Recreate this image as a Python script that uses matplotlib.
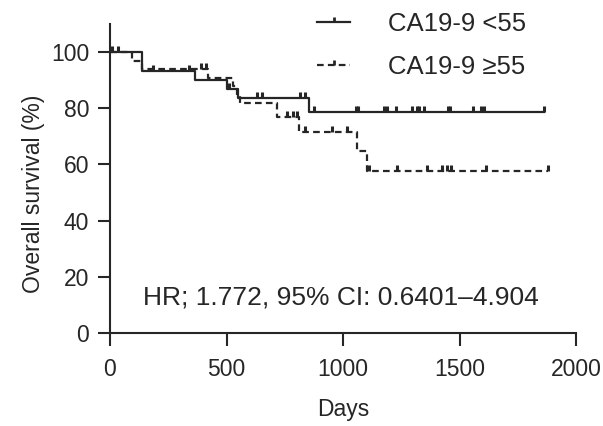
"""
Kaplan-Meier style overall survival plot, CA19-9 groups
"""
import matplotlib
matplotlib.use("Agg")
import matplotlib.pyplot as plt
import numpy as np
from matplotlib.path import Path
from matplotlib.lines import Line2D

plt.rcParams['font.family'] = ['Liberation Sans', 'DejaVu Sans']

# CA19-9 <55 (solid)
low_times = [0, 136, 363, 502, 550, 853]
low_surv = [100, 93.3, 90.1, 86.9, 83.6, 78.8]
low_end = 1864
low_censor = [10, 36, 184, 337, 509, 632, 652, 817, 839, 875, 1056, 1066,
              1178, 1188, 1226, 1298, 1318, 1328, 1348, 1450, 1460, 1556,
              1594, 1604, 1864]

# CA19-9 >=55 (dashed)
high_times = [0, 96, 139, 422, 530, 545, 556, 717, 813, 1061, 1101]
high_surv = [100, 97.0, 93.9, 90.9, 87.8, 84.8, 81.8, 76.8, 71.7, 64.8, 57.6]
high_end = 1878
high_censor = [390, 410, 760, 785, 803, 839, 953, 1018, 1110, 1233, 1362,
               1427, 1447, 1462, 1613, 1878]

labels = ['CA19-9 <55', 'CA19-9 \u226555']
hr_text = 'HR; 1.772, 95% CI: 0.6401\u20134.904'

ink = '#262626'
tick_up = Path([(0, 0), (0, 1)])  # censor mark rising above the line


def level_at(times, surv, t):
    idx = np.searchsorted(times, t, side='right') - 1
    return np.asarray(surv)[idx]


fig = plt.figure(figsize=(6.03, 4.26), dpi=100)
ax = fig.add_axes([110 / 603, 93 / 426, 466 / 603, 309 / 426])

dash = (3.0, 1.9)
for times, surv, end, cens, ls in [
        (low_times, low_surv, low_end, low_censor, '-'),
        (high_times, high_surv, high_end, high_censor, '--')]:
    x = list(times) + [end]
    y = list(surv) + [surv[-1]]
    line, = ax.step(x, y, where='post', color=ink, lw=1.6, linestyle=ls)
    if ls == '--':
        line.set_dashes(dash)
    ax.plot(cens, level_at(times, surv, cens), linestyle='none',
            marker=tick_up, ms=8, mew=2.2, color=ink)

ax.set_xlim(0, 2000)
ax.set_ylim(0, 110)
ax.set_xticks([0, 500, 1000, 1500, 2000])
ax.set_yticks([0, 20, 40, 60, 80, 100])
ax.spines['top'].set_visible(False)
ax.spines['right'].set_visible(False)
for s in ['left', 'bottom']:
    ax.spines[s].set_linewidth(1.5)
    ax.spines[s].set_color(ink)
ax.tick_params(axis='both', direction='out', length=9, width=1.5,
               color=ink, labelsize=16.5, labelcolor=ink, pad=6)
ax.tick_params(axis='x', pad=9)

ax.set_xlabel('Days', fontsize=16.5, color=ink, labelpad=12)
ax.set_ylabel('Overall survival (%)', fontsize=16.5, color=ink)
ax.yaxis.set_label_coords(-0.14, 0.45)

ax.text(0.495, 0.116, hr_text, transform=ax.transAxes, ha='center',
        va='center', fontsize=19, color=ink)

handles = [
    Line2D([], [], color=ink, lw=1.6, marker=tick_up, ms=7, mew=2.0),
    Line2D([], [], color=ink, lw=1.6, linestyle='--', dashes=dash,
           marker=tick_up, ms=7, mew=2.0),
]
ax.legend(handles, labels, loc='upper left', frameon=False,
          bbox_to_anchor=(317 / 603, 1 - 12 / 426),
          bbox_transform=fig.transFigure, borderpad=0, borderaxespad=0,
          fontsize=18.5, handlelength=1.3, handletextpad=1.45,
          labelspacing=0.75, labelcolor=ink)

fig.savefig('out.png', dpi=100)
